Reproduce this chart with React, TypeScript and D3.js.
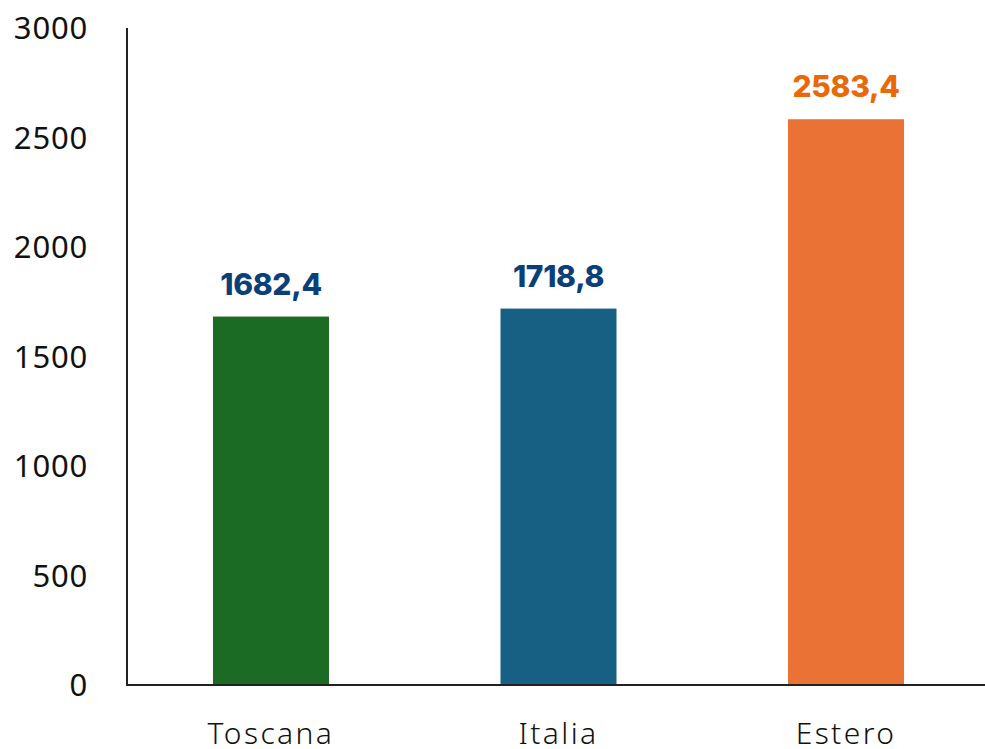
import { useEffect, useRef } from "react";
import * as d3 from "d3";

const categories = ["Toscana", "Italia", "Estero"];
const values = [1682.4, 1718.8, 2583.4];
const valueLabels = ["1682,4", "1718,8", "2583,4"];
const yTicks = [0, 500, 1000, 1500, 2000, 2500, 3000];

const barColors = ["#1b6b25", "#176083", "#e97234"];
const labelColors = ["#0b3f7a", "#0b3f7a", "#e8680a"];

const WIDTH = 985;
const HEIGHT = 749;

export default function App() {
  const svgRef = useRef<SVGSVGElement | null>(null);

  useEffect(() => {
    if (!svgRef.current) return;
    const svg = d3.select(svgRef.current);
    svg.selectAll("*").remove();

    const margin = { top: 28, bottom: 64, left: 127 };
    const innerHeight = HEIGHT - margin.top - margin.bottom;

    const x = d3
      .scaleBand<string>()
      .domain(categories)
      .range([margin.left, 990])
      .paddingInner(0.5965)
      .paddingOuter(0.299);

    const y = d3
      .scaleLinear()
      .domain([0, 3000])
      .range([margin.top + innerHeight, margin.top]);

    // y tick labels (no tick marks)
    svg
      .append("g")
      .selectAll("text")
      .data(yTicks)
      .join("text")
      .attr("x", 88)
      .attr("y", (d) => y(d))
      .attr("dy", "0.36em")
      .attr("text-anchor", "end")
      .style("font-family", "'Noto Sans', sans-serif")
      .style("font-size", "31px")
      .style("letter-spacing", "0.8px")
      .style("fill", "#111")
      .text((d) => d);

    // bars
    svg
      .append("g")
      .selectAll("rect")
      .data(values)
      .join("rect")
      .attr("x", (_d, i) => x(categories[i])!)
      .attr("y", (d) => y(d))
      .attr("width", x.bandwidth())
      .attr("height", (d) => y(0) - y(d))
      .attr("fill", (_d, i) => barColors[i]);

    // value labels
    svg
      .append("g")
      .selectAll("text")
      .data(values)
      .join("text")
      .attr("x", (_d, i) => x(categories[i])! + x.bandwidth() / 2)
      .attr("y", (d) => y(d) - 22)
      .attr("text-anchor", "middle")
      .style("font-family", "Inter, 'Noto Sans', sans-serif")
      .style("font-weight", 800)
      .style("font-size", "30px")
      .style("letter-spacing", "-0.3px")
      .style("fill", (_d, i) => labelColors[i])
      .text((_d, i) => valueLabels[i]);

    // axes lines
    svg
      .append("line")
      .attr("x1", margin.left)
      .attr("x2", margin.left)
      .attr("y1", y(3000))
      .attr("y2", y(0))
      .attr("stroke", "#222")
      .attr("stroke-width", 2);

    svg
      .append("line")
      .attr("x1", margin.left - 1)
      .attr("x2", WIDTH)
      .attr("y1", y(0))
      .attr("y2", y(0))
      .attr("stroke", "#222")
      .attr("stroke-width", 2);

    // category labels
    svg
      .append("g")
      .selectAll("text")
      .data(categories)
      .join("text")
      .attr("x", (d) => x(d)! + x.bandwidth() / 2)
      .attr("y", 744)
      .attr("text-anchor", "middle")
      .style("font-family", "'Noto Sans', sans-serif")
      .style("font-weight", 300)
      .style("font-size", "30px")
      .style("letter-spacing", "2.4px")
      .style("fill", "#111")
      .text((d) => d);
  }, []);

  return (
    <div style={{ position: "fixed", left: 0, top: 0, width: WIDTH, height: HEIGHT, background: "#fff" }}>
      <svg ref={svgRef} width={WIDTH} height={HEIGHT} />
    </div>
  );
}
